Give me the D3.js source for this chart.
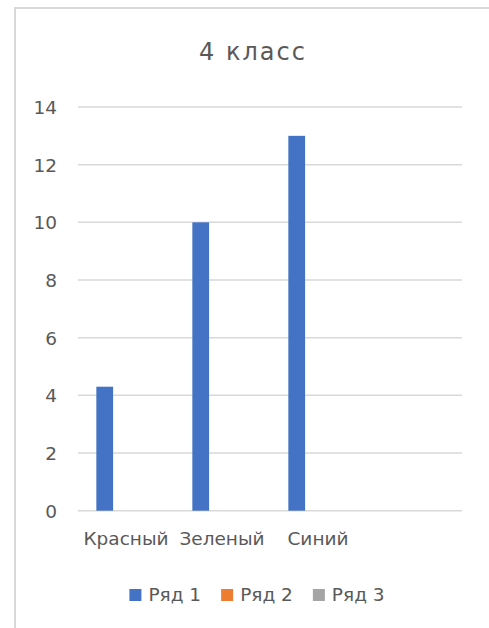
<!DOCTYPE html>
<html>
<head>
<meta charset="utf-8">
<script src="https://cdn.jsdelivr.net/npm/d3@7"></script>
<style>
  html, body { margin: 0; padding: 0; background: #fff; }
  svg { display: block; }
  text { font-family: "DejaVu Sans", sans-serif; fill: #595959; }
</style>
</head>
<body>
<svg id="chart" width="489" height="628"></svg>
<script>
// Chart data
const title = "4 класс";
const categories = ["Красный", "Зеленый", "Синий", ""];
const seriesNames = ["Ряд 1", "Ряд 2", "Ряд 3"];
const series1 = [4.3, 10, 13, null];
const series2 = [null, null, null, null];
const series3 = [null, null, null, null];
const yTicks = [0, 2, 4, 6, 8, 10, 12, 14];

const seriesValues = [series1, series2, series3];
const colors = ["#4472C4", "#ED7D31", "#A5A5A5"];

const svg = d3.select("#chart");
const W = 489, H = 628;

// Chart frame (only top and left edges fall inside the view)
svg.append("rect")
  .attr("x", 15).attr("y", 8)
  .attr("width", W).attr("height", H)
  .attr("fill", "#fff")
  .attr("stroke", "#d9d9d9")
  .attr("stroke-width", 2);

const plot = { left: 78, right: 462, top: 107, bottom: 510.7 };

const x = d3.scaleBand()
  .domain(d3.range(categories.length))
  .range([plot.left, plot.right])
  .padding(0);

const y = d3.scaleLinear()
  .domain([0, 14])
  .range([plot.bottom, plot.top]);

// Clustered bar layout: gap width 219%, overlap -27%
const gapWidth = 2.19, overlap = -0.27, n = seriesValues.length;
const barW = x.bandwidth() / (n + (n - 1) * (-overlap) + gapWidth);
const barStep = barW * (1 - overlap);
const groupOffset = barW * gapWidth / 2;

// Horizontal gridlines
svg.append("g")
  .selectAll("line")
  .data(yTicks)
  .join("line")
  .attr("x1", plot.left).attr("x2", plot.right)
  .attr("y1", d => y(d)).attr("y2", d => y(d))
  .attr("stroke", "#d9d9d9")
  .attr("stroke-width", 1.5);

// Y axis labels
const yAxis = d3.axisLeft(y).tickValues(yTicks).tickSize(0).tickPadding(0);
const yG = svg.append("g")
  .attr("transform", `translate(57,0)`)
  .call(yAxis);
yG.select(".domain").remove();
yG.selectAll("text")
  .attr("font-size", 18.5)
  .attr("font-family", "DejaVu Sans, sans-serif")
  .attr("fill", "#595959")
  .attr("dy", "0.35em");

// Bars
seriesValues.forEach((vals, si) => {
  svg.append("g")
    .selectAll("rect")
    .data(vals.map((v, i) => ({ v, i })).filter(d => d.v != null))
    .join("rect")
    .attr("x", d => x(d.i) + groupOffset + si * barStep)
    .attr("width", barW)
    .attr("y", d => y(d.v))
    .attr("height", d => y(0) - y(d.v))
    .attr("fill", colors[si]);
});

// Category labels
const xAxis = d3.axisBottom(x).tickFormat(i => categories[i]).tickSize(0).tickPadding(0);
const xG = svg.append("g")
  .attr("transform", `translate(0,532)`)
  .call(xAxis);
xG.select(".domain").remove();
xG.selectAll("text")
  .attr("font-size", 18.5)
  .attr("font-family", "DejaVu Sans, sans-serif")
  .attr("fill", "#595959")
  .attr("dy", "0.72em");

// Title
svg.append("text")
  .attr("x", 253)
  .attr("y", 60)
  .attr("text-anchor", "middle")
  .attr("font-size", 24)
  .attr("letter-spacing", 2)
  .text(title);

// Legend
const legend = svg.append("g");
const items = legend.selectAll("g")
  .data(seriesNames)
  .join("g");
items.append("rect")
  .attr("width", 12).attr("height", 12)
  .attr("y", 589)
  .attr("fill", (d, i) => colors[i]);
items.append("text")
  .attr("x", 19)
  .attr("y", 601)
  .attr("font-size", 18.5)
  .text(d => d);

let cursor = 0;
const itemGap = 20;
const widths = [];
items.each(function () {
  const w = 19 + this.querySelector("text").getComputedTextLength();
  widths.push(w);
});
const total = d3.sum(widths) + itemGap * (widths.length - 1);
const start = 257 - total / 2;
items.attr("transform", (d, i) => {
  const tx = start + cursor;
  cursor += widths[i] + itemGap;
  return `translate(${tx},0)`;
});
</script>
</body>
</html>
